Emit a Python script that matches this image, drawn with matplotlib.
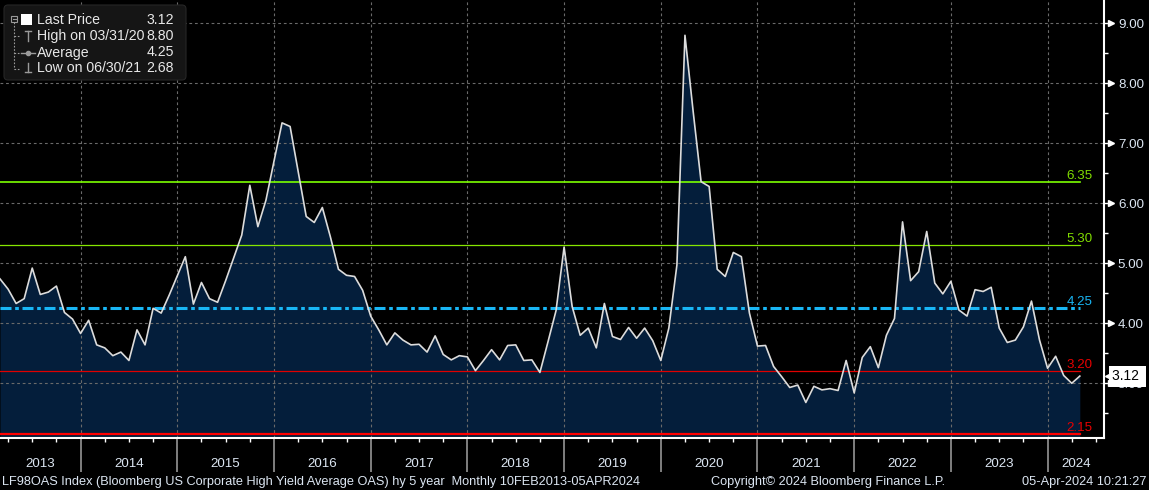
import numpy as np
import pandas as pd
import matplotlib
matplotlib.use('Agg')
import matplotlib.pyplot as plt
import matplotlib.transforms as mtransforms
from matplotlib.patches import FancyBboxPatch, Rectangle
from matplotlib.lines import Line2D

# monthly HY OAS (5y), Feb 2013 .. Apr 2024
spread = [
    4.74, 4.57, 4.33, 4.41, 4.92, 4.48, 4.52, 4.62, 4.18, 4.07,
    3.83, 4.05, 3.64, 3.59, 3.46, 3.52, 3.38, 3.89, 3.64, 4.25,
    4.17, 4.47, 4.79, 5.11, 4.32, 4.68, 4.41, 4.35, 4.71, 5.09,
    5.47, 6.30, 5.61, 6.05, 6.70, 7.34, 7.28, 6.53, 5.78, 5.68,
    5.93, 5.44, 4.90, 4.80, 4.78, 4.55, 4.12, 3.89, 3.64, 3.84,
    3.72, 3.64, 3.65, 3.52, 3.79, 3.48, 3.39, 3.46, 3.44, 3.21,
    3.38, 3.56, 3.39, 3.63, 3.64, 3.38, 3.39, 3.18, 3.69, 4.21,
    5.27, 4.28, 3.80, 3.92, 3.59, 4.33, 3.78, 3.73, 3.93, 3.75,
    3.92, 3.71, 3.38, 3.92, 4.97, 8.80, 7.55, 6.36, 6.28, 4.90,
    4.78, 5.18, 5.11, 4.17, 3.62, 3.63, 3.28, 3.11, 2.93, 2.97,
    2.68, 2.95, 2.89, 2.91, 2.88, 3.38, 2.84, 3.43, 3.61, 3.26,
    3.80, 4.08, 5.69, 4.71, 4.86, 5.53, 4.67, 4.49, 4.70, 4.22,
    4.12, 4.56, 4.53, 4.60, 3.92, 3.68, 3.72, 3.94, 4.37, 3.72,
    3.25, 3.45, 3.13, 3.00, 3.12,
]
dates = pd.date_range('2013-02-28', periods=len(spread), freq='ME')
year_labels = ['2013', '2014', '2015', '2016', '2017', '2018',
               '2019', '2020', '2021', '2022', '2023', '2024']

# mean +/- 1 and 2 std dev bands
level_values = [6.35, 5.30, 4.25, 3.20, 2.15]
level_colors = ['#7cff00', '#86e600', '#19b6f5', '#e00000', '#ff0000']
level_text_colors = ['#80dc00', '#80dc00', '#19b6f5', '#e80000', '#e80000']
level_widths = [1.2, 0.9, 2.2, 0.9, 1.6]

legend_labels = ['Last Price', 'High on 03/31/20', 'Average', 'Low on 06/30/21']
legend_values = ['3.12', '8.80', '4.25', '2.68']

y_ticks = [3, 4, 5, 6, 7, 8, 9]
y_minor = [2.5, 3.5, 4.5, 5.5, 6.5, 7.5, 8.5]

plt.rcParams['font.family'] = ['Liberation Sans', 'DejaVu Sans']
txt = '#dce6f2'

W, H = 1149, 490
fig = plt.figure(figsize=(W / 100, H / 100), dpi=100, facecolor='black')
ax = fig.add_axes([0, 52 / H, 1104 / W, 438 / H], facecolor='black')

x = np.arange(len(spread))
ybot, ytop = 2.088, 9.388
ax.set_xlim(0, 137)
ax.set_ylim(ybot, ytop)

ax.fill_between(x, spread, ybot, color='#041e3b', lw=0, zorder=1)
ax.plot(x, spread, color='#dcdcdc', lw=1.2, zorder=4)

# level lines and their labels
for lv, c, tc, lw in zip(level_values, level_colors, level_text_colors, level_widths):
    if lv == 4.25:
        ax.plot([0, x[-1]], [lv, lv], color=c, lw=lw, ls=(0, (3.6, 1.2, 1.2, 1.2)), zorder=3)
    else:
        ax.plot([0, x[-1]], [lv, lv], color=c, lw=lw, zorder=3)
    ax.annotate(f'{lv:.2f}', xy=(x[-1], lv), xytext=(13, 0), textcoords='offset pixels',
                ha='right', va='bottom', color=tc, fontsize=9.6, zorder=5)

# year separators (december points) and quarterly ticks
seps = x[dates.month == 12]
ax.set_xticks(seps)
ax.set_xticks(np.arange(1, 137, 3), minor=True)
ax.set_xticklabels([])
ax.tick_params(axis='x', which='major', length=0)
ax.tick_params(axis='x', which='minor', length=3, width=1, color='white', direction='out')
ax.vlines(seps, -0.078, 0, transform=ax.get_xaxis_transform(), colors='#8a8a8a',
          lw=1.3, clip_on=False)

bounds = [0] + list(seps) + [137]
for i, lab in enumerate(year_labels):
    mid = (bounds[i] + bounds[i + 1]) / 2
    ax.text(mid, -0.06, lab, transform=ax.get_xaxis_transform(), ha='center', va='center',
            color=txt, fontsize=9.6)

# right y axis
ax.yaxis.tick_right()
ax.set_yticks(y_ticks)
ax.set_yticklabels([f'{v:.2f}' for v in y_ticks])
ax.set_yticks(y_minor, minor=True)
ax.tick_params(axis='y', which='major', length=4, width=1, color='white', pad=6,
               labelcolor=txt, labelsize=9.6)
ax.tick_params(axis='y', which='minor', length=3, width=1, color='white')
ytrans = mtransforms.blended_transform_factory(ax.transAxes, ax.transData)
tri = mtransforms.offset_copy(ytrans, fig=fig, x=7, y=0, units='dots')
ax.plot([1] * len(y_ticks), y_ticks, ls='none', marker='>', ms=4.5, color='white',
        transform=tri, clip_on=False)

ax.grid(which='major', color='#6a6a6a', lw=0.8, ls=(0, (2.5, 2.5)))

for s in ['left', 'top']:
    ax.spines[s].set_visible(False)
for s in ['right', 'bottom']:
    ax.spines[s].set_color('white')
    ax.spines[s].set_linewidth(1.5)

# last price box (covers the 3.00 label like the terminal does)
arr = mtransforms.offset_copy(ytrans, fig=fig, x=6, y=0, units='dots')
ax.plot([1], [spread[-1]], marker='<', ms=7, color='white', transform=arr, clip_on=False, zorder=6)
ax.annotate(f'{spread[-1]:.2f} ', xy=(1, spread[-1]), xycoords=ytrans, xytext=(8, 0),
            textcoords='offset pixels', ha='left', va='center', color='black', fontsize=10,
            bbox=dict(boxstyle='square,pad=0.25', fc='white', ec='none'),
            annotation_clip=False, zorder=6)

# legend panel (pixel coordinates, y from top)
ident = mtransforms.IdentityTransform()


def line_px(xs, ys, **kw):
    fig.add_artist(Line2D(xs, [H - v for v in ys], transform=ident, **kw))


fig.add_artist(FancyBboxPatch((4, H - 80), 182, 75, boxstyle='round,pad=0,rounding_size=4',
                              transform=ident, fc='#151515', ec='#262626', lw=0.8, zorder=5))
gray = '#9a9a9a'
rows = [20.5, 36, 52.5, 68.5]
fig.add_artist(Rectangle((11, H - 21.5), 6, 6, transform=ident, fill=False, ec=gray, lw=0.8, zorder=6))
line_px([12.5, 15.5], [18.5, 18.5], color=gray, lw=0.8, zorder=6)
fig.add_artist(Rectangle((21, H - 25), 11, 11, transform=ident, fc='white', ec='none', zorder=6))
line_px([14, 14], [22, 69], color=gray, lw=0.8, ls=(0, (1.5, 1.5)), zorder=6)
for r in rows[1:]:
    line_px([14, 20], [r, r], color=gray, lw=0.8, ls=(0, (1.5, 1.5)), zorder=6)
line_px([25, 31], [31, 31], color=gray, lw=1, zorder=6)
line_px([28, 28], [31, 41], color=gray, lw=1, zorder=6)
line_px([21, 35], [52.5, 52.5], color=gray, lw=1, zorder=6)
line_px([28], [52.5], color=gray, marker='o', ms=3, zorder=6)
line_px([28, 28], [63, 72], color=gray, lw=1, zorder=6)
line_px([25, 31], [72, 72], color=gray, lw=1, zorder=6)
for r, lab, val in zip(rows, legend_labels, legend_values):
    fig.text(37 / W, 1 - r / H, lab, color='#e8e8e8', fontsize=10.2, va='center', zorder=7)
    fig.text(174 / W, 1 - r / H, val, color='#e8e8e8', fontsize=10.2, va='center', ha='right', zorder=7)

# footer
fy = 1 - 482 / H
fig.text(2 / W, fy, 'LF98OAS Index (Bloomberg US Corporate High Yield Average OAS) hy 5 year  '
         'Monthly 10FEB2013-05APR2024', color=txt, fontsize=9.2, va='center')
fig.text(711 / W, fy, 'Copyright\u00a9 2024 Bloomberg Finance L.P.', color=txt,
         fontsize=9.2, va='center')
fig.text(1146 / W, fy, '05-Apr-2024 10:21:27', color=txt, fontsize=9.2, va='center', ha='right')

fig.savefig('out.png', dpi=100, facecolor='black')
